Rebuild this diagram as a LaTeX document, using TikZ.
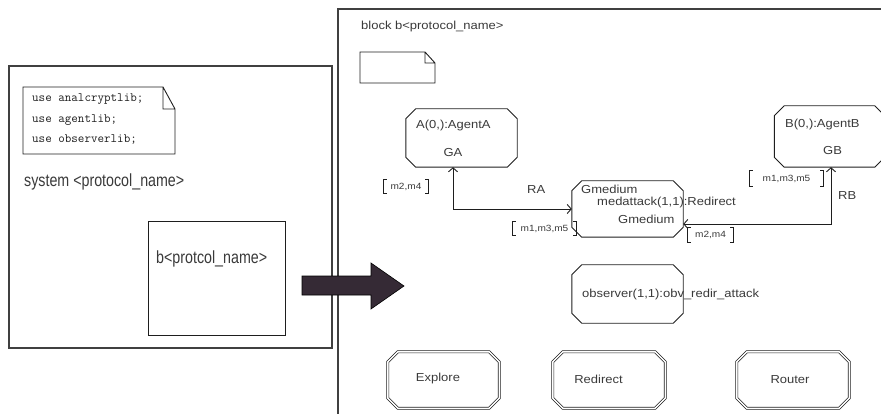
\documentclass[tikz,border=0pt]{standalone}
\usepackage{fontspec}
\setmainfont{Liberation Sans}
\newfontfamily\wideface[FakeStretch=1.12]{Liberation Sans}
\newfontfamily\narrowface[FakeStretch=0.81]{Liberation Sans}
\usetikzlibrary{arrows.meta}
\definecolor{ink}{HTML}{3A3A3A}
\definecolor{edge}{HTML}{1E1E1E}
\definecolor{bigarrow}{HTML}{352A35}

\tikzset{
  lbl/.style={font=\wideface\fontsize{11.6}{13}\selectfont, text=ink, inner sep=0, anchor=base west},
  clbl/.style={lbl, anchor=base},
  biglbl/.style={font=\narrowface\fontsize{17.6}{20}\selectfont, text=ink, inner sep=0, anchor=base west},
  code/.style={font=\ttfamily\fontsize{12.7}{16}\selectfont, text=edge, inner sep=0, anchor=base west},
  tag/.style={font=\wideface\fontsize{9}{10}\selectfont, text=ink, inner sep=0},
  procbox/.style={rectangle, minimum width=111pt, minimum height=58pt, inner sep=0},
  outline/.style={draw=edge, line width=0.9pt},
  setline/.style={draw=edge, line width=0.7pt, double=white, double distance=1.4pt},
  frame/.style={draw=edge!85, line width=1.1pt},
  thin/.style={draw=edge, line width=0.9pt},
  link/.style={thin, {Straight Barb[length=4pt,width=9pt]}-{Straight Barb[length=4pt,width=9pt]}},
}

% octagonal outline (chamfered corners) around a named node: #1 style, #2 node
\newcommand\chamfer[2]{%
  \draw[#1] ([xshift=10pt]#2.north west) -- ([xshift=-10pt]#2.north east)
    -- ([yshift=-10pt]#2.north east) -- ([yshift=10pt]#2.south east)
    -- ([xshift=-10pt]#2.south east) -- ([xshift=10pt]#2.south west)
    -- ([yshift=10pt]#2.south west) -- ([yshift=-10pt]#2.north west) -- cycle;}

% square brackets drawn around a tag node
\newcommand\bracketed[1]{%
  \draw[thin] ([xshift=3pt]#1.north west) -- (#1.north west) -- (#1.south west) -- ([xshift=3pt]#1.south west)
              ([xshift=-3pt]#1.north east) -- (#1.north east) -- (#1.south east) -- ([xshift=-3pt]#1.south east);}

\begin{document}
\begin{tikzpicture}[x=1pt,y=-1pt]
\useasboundingbox (0,0) rectangle (881,414);
\clip (0,0) rectangle (881,414);

% ---------- system view ----------
\draw[frame] (9,66) rectangle (332,348);
\draw[thin] (23,87) -- (163,87) -- (175,109) -- (175,154) -- (23,154) -- cycle
            (163,87) -- (163,109) -- (175,109);
\node[code] (use1) at (32,102) {use analcryptlib;};
\node[code] (use2) at (32,122.5) {use agentlib;};
\node[code] (use3) at (32,143) {use observerlib;};
\node[biglbl] (sys) at (24,187) {system <protocol\_name>};
\node[draw=edge, line width=1pt, minimum width=137pt, minimum height=113pt, inner sep=0] (bblk) at (216.5,278.5) {};
\node[biglbl] (bname) at (156,263) {b<protcol\_name>};

% ---------- block view ----------
\draw[frame] (338,420) -- (338,9) -- (890,9);
\node[lbl] (blk) at (361,30) {block b<protocol\_name>};
\draw[thin] (360,52) -- (425,52) -- (435,63) -- (435,83) -- (360,83) -- cycle
            (425,52) -- (425,63) -- (435,63);

\node[procbox] (A) at (461.5,138) {};
\chamfer{outline}{A}
\node[lbl] (Aname) at (416,129) {A(0,):AgentA};
\node[clbl] (GA) at (453,157) {GA};

\node[procbox, minimum width=110pt, minimum height=61pt] (B) at (829.5,136.5) {};
\chamfer{outline}{B}
\node[lbl] (Bname) at (785,128) {B(0,):AgentB};
\node[lbl] (GB) at (823,155) {GB};

\node[procbox, minimum height=56pt] (G) at (627.5,209) {};
\chamfer{outline}{G}
\node[lbl] (G1) at (581,194) {Gmedium};
\node[lbl] (Gname) at (597,206) {medattack(1,1):Redirect};
\node[lbl] (G2) at (618,224) {Gmedium};

\node[procbox] (O) at (627.5,294) {};
\chamfer{outline}{O}
\node[lbl] (Oname) at (582,298) {observer(1,1):obv\_redir\_attack};

% channels
\draw[link] ([xshift=-8.5pt]A.south) |- (G.west);
\draw[link] ([xshift=1.5pt]B.south) |- ([yshift=-15pt]G.east);
\node[lbl] (RA) at (527,194) {RA};
\node[lbl] (RB) at (838,200) {RB};

\node[tag, minimum width=44pt, minimum height=13pt] (t1) at (406,186.5) {m2,m4};
\bracketed{t1}
\node[tag, minimum width=63pt, minimum height=13pt] (t2) at (544.5,228.5) {m1,m3,m5\hspace{6pt}};
\bracketed{t2}
\node[tag, minimum width=45pt, minimum height=14pt] (t3) at (710.5,235) {m2,m4};
\bracketed{t3}
\node[tag, minimum width=73pt, minimum height=15pt] (t4) at (786.5,178.5) {m1,m3,m5};
\bracketed{t4}

% block types
\node[procbox, minimum height=56pt] (E) at (443.5,380) {};
\chamfer{setline}{E}
\node[clbl] (Ename) at (438,381) {Explore};
\node[procbox, minimum width=112pt, minimum height=56pt] (R) at (609,380) {};
\chamfer{setline}{R}
\node[clbl] (Rname) at (598.5,383) {Redirect};
\node[procbox, minimum width=112pt, minimum height=56pt] (T) at (793,380) {};
\chamfer{setline}{T}
\node[clbl] (Tname) at (790,383) {Router};

% ---------- refinement arrow, on top of both frames ----------
\filldraw[fill=bigarrow, draw=black, line width=0.6pt]
  (302,276) -- (371,276) -- (371,263) -- (404,286) -- (371,309) -- (371,295) -- (302,295) -- cycle;
\end{tikzpicture}
\end{document}
